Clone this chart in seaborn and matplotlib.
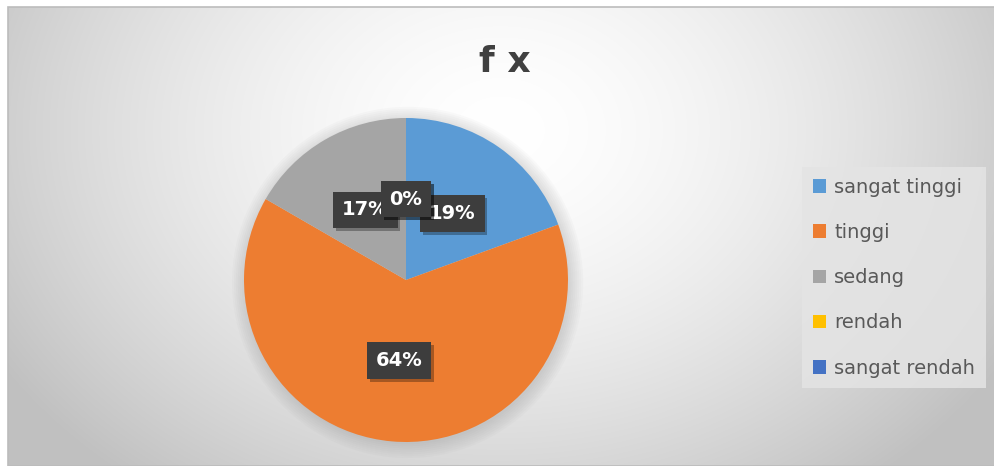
import numpy as np
import matplotlib
matplotlib.use("Agg")
import matplotlib.pyplot as plt
import matplotlib.patheffects as pe
from matplotlib.patches import Patch, Circle, Rectangle
import seaborn as sns

categories = ["sangat tinggi", "tinggi", "sedang", "rendah", "sangat rendah"]
counts = [7, 23, 6, 0, 0]
title = "f x"
colors = ["#5B9BD5", "#ED7D31", "#A5A5A5", "#FFC000", "#4472C4"]

sns.set_theme(style="white")
plt.rcParams['font.family'] = ['DejaVu Sans']

W, H = 995, 466
fig = plt.figure(figsize=(W / 100, H / 100), dpi=100)
fig.patch.set_facecolor("white")

# background gradient panel
bg = fig.add_axes([0, 0, 1, 1], zorder=-10)
bg.set_xlim(0, W)
bg.set_ylim(H, 0)
bg.axis("off")
yy, xx = np.mgrid[0:H, 0:W]
d = np.sqrt(((xx - 500) / 560.0) ** 2 + ((yy - 130) / 430.0) ** 2)
val = 255 - 58 * np.clip(d, 0, 1.25) ** 1.6
val = np.clip(val, 192, 255)
img = np.dstack([val, val, val]) / 255.0
img[:7, :, :] = 1.0
img[:, :8, :] = 1.0
bg.imshow(img, extent=(0, W, H, 0), aspect="auto", interpolation="bilinear")
bg.add_patch(Rectangle((8, 7), W - 8, H - 7, fill=False, edgecolor="#bcbcbc", lw=1.2))

# pie axes: centre (406, 280) px, radius 162 px
cx, cy, r = 406, 280, 162
ax = fig.add_axes([(cx - r) / W, (H - cy - r) / H, 2 * r / W, 2 * r / H])
ax.set_facecolor("none")

# soft shadow
for i in range(8):
    ax.add_patch(Circle((0.01, -0.015), 1.0 + 0.012 * i, color="#808080", alpha=0.035,
                        zorder=0, lw=0, clip_on=False))

wedges, texts, autotexts = ax.pie(
    counts, colors=colors, startangle=90, counterclock=False,
    autopct='%1.0f%%', pctdistance=0.5, radius=1.0,
    wedgeprops=dict(linewidth=0), textprops=dict(color="white", fontsize=14, fontweight="bold"))
for w in wedges:
    w.set_zorder(1)

order = [2, 1, 0, 3, 4]
for rank, i in enumerate(order):
    t = autotexts[i]
    t.set_zorder(5 + rank)
    t.set_bbox(dict(boxstyle="square,pad=0.45", facecolor="#3d3d3d", edgecolor="none"))
    t.get_bbox_patch().set_path_effects([
        pe.SimplePatchShadow(offset=(2, -2), shadow_rgbFace="black", alpha=0.3), pe.Normal()])

ax.set_xlim(-1, 1)
ax.set_ylim(-1, 1)
ax.set_aspect("equal")
ax.axis("off")

fig.text(505 / W, 1 - 62 / H, title, ha="center", va="center", fontsize=26,
         fontweight="bold", color="#404040")

handles = [Patch(facecolor=c, edgecolor="none") for c in colors]
leg = fig.legend(handles, categories, loc="upper left", bbox_to_anchor=(802 / W, 1 - 167 / H),
                 frameon=True, fontsize=14, handlelength=0.7, handleheight=0.7,
                 handletextpad=0.4, labelspacing=1.35, borderpad=0.55, borderaxespad=0,
                 fancybox=False, labelcolor="#595959")
leg.get_frame().set_facecolor("#e4e4e4")
leg.get_frame().set_edgecolor("none")
leg.get_frame().set_alpha(0.85)

fig.savefig("out.png", dpi=100)
